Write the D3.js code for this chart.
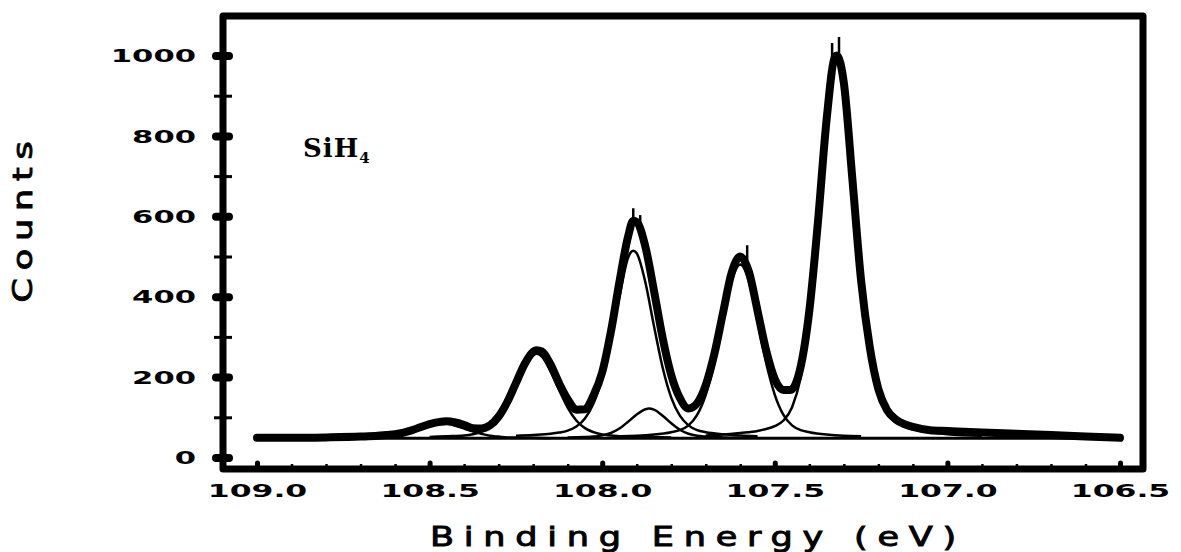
<!DOCTYPE html>
<html lang="en">
<head>
<meta charset="UTF-8">
<title>SiH4 Si 2p spectrum</title>
<style>
  body { margin: 0; background: #fff; }
  svg { display: block; }
</style>
</head>
<body>
<div id="chart"></div>
<script src="https://d3js.org/d3.v7.min.js"></script>
<script>
const width = 1181, height = 552;

// measured spectrum, [binding energy (eV), counts]
const spectrum = [
  [109.00, 49], [108.90, 49], [108.80, 50], [108.70, 52], [108.65, 54], [108.625, 56], [108.60, 58],
  [108.575, 62], [108.55, 68], [108.525, 76], [108.50, 83], [108.475, 88], [108.45, 90], [108.425, 87],
  [108.40, 81], [108.375, 73], [108.35, 72], [108.325, 80], [108.30, 102], [108.275, 138], [108.25, 185],
  [108.225, 232], [108.20, 263], [108.19, 267], [108.175, 264], [108.15, 232], [108.125, 185], [108.10, 145],
  [108.075, 119], [108.05, 120], [108.025, 155], [108.00, 212], [107.975, 312], [107.95, 437], [107.925, 550],
  [107.91, 589], [107.90, 586], [107.875, 525], [107.85, 415], [107.825, 298], [107.80, 205], [107.775, 148],
  [107.75, 122], [107.725, 135], [107.70, 180], [107.675, 258], [107.65, 360], [107.625, 460], [107.60, 500],
  [107.575, 462], [107.55, 365], [107.525, 266], [107.50, 195], [107.475, 168], [107.455, 168], [107.425, 226],
  [107.40, 365], [107.375, 586], [107.35, 840], [107.325, 998], [107.32, 1000], [107.30, 932], [107.275, 690],
  [107.25, 440], [107.225, 275], [107.20, 170], [107.175, 118], [107.15, 95], [107.125, 83], [107.10, 76],
  [107.05, 68], [107.00, 66], [106.90, 62], [106.80, 59], [106.70, 56], [106.60, 52], [106.50, 49]
];

// noise spikes on the peak tops, [energy, from, to]
const spikes = [
  [107.91, 585, 620], [107.89, 575, 603], [107.58, 480, 528], [107.334, 960, 1031], [107.314, 990, 1046]
];

// fitted background and components
const background = [[109.0, 48], [106.5, 48]];

const peak1 = [
  [108.75, 49], [108.70, 49], [108.65, 50], [108.625, 51], [108.60, 54], [108.575, 58], [108.55, 63],
  [108.525, 71], [108.50, 78], [108.475, 83], [108.45, 84], [108.425, 79], [108.40, 72], [108.375, 65],
  [108.35, 59], [108.325, 54], [108.30, 52], [108.275, 50], [108.25, 50], [108.20, 49], [108.15, 48]
];
const peak2 = [
  [108.50, 51], [108.45, 53], [108.40, 55], [108.375, 58], [108.35, 64], [108.325, 76], [108.30, 97],
  [108.275, 132], [108.25, 177], [108.225, 224], [108.20, 254], [108.19, 258], [108.175, 251], [108.15, 215],
  [108.125, 168], [108.10, 124], [108.075, 92], [108.05, 73], [108.025, 63], [108.00, 57], [107.975, 55],
  [107.95, 53], [107.90, 52], [107.85, 51], [107.80, 50]
];
const peak3 = [
  [108.25, 54], [108.20, 56], [108.15, 59], [108.125, 62], [108.10, 67], [108.075, 77], [108.05, 97],
  [108.025, 135], [108.00, 198], [107.975, 290], [107.95, 400], [107.925, 497], [107.91, 514], [107.90, 508],
  [107.875, 436], [107.85, 327], [107.825, 224], [107.80, 149], [107.775, 104], [107.75, 80], [107.725, 68],
  [107.70, 63], [107.65, 58], [107.60, 55], [107.55, 53]
];
const peak3b = [
  [108.10, 50], [108.05, 51], [108.025, 52], [108.00, 55], [107.975, 61], [107.95, 72], [107.925, 89],
  [107.90, 107], [107.875, 120], [107.865, 122], [107.85, 119], [107.825, 104], [107.80, 85], [107.775, 69],
  [107.75, 59], [107.725, 54], [107.70, 52], [107.65, 50], [107.60, 49]
];
const peak4 = [
  [107.95, 53], [107.90, 54], [107.85, 57], [107.80, 63], [107.775, 68], [107.75, 80], [107.725, 106],
  [107.70, 156], [107.675, 235], [107.65, 338], [107.625, 438], [107.60, 480], [107.575, 438], [107.55, 338],
  [107.525, 235], [107.50, 156], [107.475, 106], [107.45, 80], [107.425, 68], [107.40, 63], [107.35, 57],
  [107.30, 54], [107.25, 53]
];
const peak5 = [
  [107.70, 55], [107.65, 57], [107.60, 61], [107.55, 66], [107.525, 71], [107.50, 78], [107.475, 92],
  [107.45, 125], [107.425, 199], [107.40, 345], [107.375, 572], [107.35, 828], [107.325, 988], [107.32, 993],
  [107.30, 921], [107.275, 677], [107.25, 427], [107.225, 260], [107.20, 160], [107.175, 110], [107.15, 88],
  [107.125, 77], [107.10, 70], [107.05, 63], [107.00, 58], [106.90, 54]
];
const components = [peak1, peak2, peak3, peak3b, peak4, peak5];

// axes
const energyTicks = [109.0, 108.5, 108.0, 107.5, 107.0, 106.5];
const energyMinor = [108.9, 108.8, 108.7, 108.6, 108.4, 108.3, 108.2, 108.1, 107.9, 107.8, 107.7, 107.6,
  107.4, 107.3, 107.2, 107.1, 106.9, 106.8, 106.7, 106.6];
const countTicks = [0, 200, 400, 600, 800, 1000];
const countMinor = [100, 300, 500, 700, 900];

const frame = { left: 223, right: 1143, top: 16, bottom: 469 };

const svg = d3.select("#chart").append("svg")
  .attr("width", width)
  .attr("height", height);

const x = d3.scaleLinear().domain([109.0, 106.5]).range([257, 1120]);
const y = d3.scaleLinear().domain([0, 1000]).range([457.5, 55.5]);

const line = d3.line()
  .x(d => x(d[0]))
  .y(d => y(d[1]))
  .curve(d3.curveMonotoneX);

// plot frame
svg.append("path")
  .attr("d", `M${frame.left},${frame.bottom}L${frame.left},${frame.top}L${frame.right},${frame.top}L${frame.right},${frame.bottom}Z`)
  .attr("fill", "none")
  .attr("stroke", "#000")
  .attr("stroke-width", 7)
  .attr("stroke-linejoin", "round");

const labelStyle = sel => sel
  .attr("fill", "#000")
  .style("font-family", "'DejaVu Sans', sans-serif")
  .style("font-weight", "bold")
  .style("font-size", "17px");

// y axis, major ticks
const yAxis = svg.append("g")
  .attr("transform", `translate(${frame.left},0)`)
  .call(d3.axisLeft(y).tickValues(countTicks).tickSize(0).tickFormat(d3.format("d")));
yAxis.select(".domain").remove();
yAxis.selectAll(".tick line")
  .attr("x1", -7).attr("x2", 6)
  .attr("stroke-width", 8)
  .attr("stroke-linecap", "round");
yAxis.selectAll(".tick text")
  .attr("x", 0).attr("dy", "0.36em")
  .attr("text-anchor", "end")
  .attr("transform", "translate(-27,0) scale(1.8,1)")
  .call(labelStyle);

// y axis, minor ticks
const yMinor = svg.append("g")
  .attr("transform", `translate(${frame.left},0)`)
  .call(d3.axisLeft(y).tickValues(countMinor).tickSize(0).tickFormat(""));
yMinor.select(".domain").remove();
yMinor.selectAll(".tick line")
  .attr("x1", -9).attr("x2", 9)
  .attr("stroke-width", 3);

// x axis, major ticks
const xAxis = svg.append("g")
  .attr("transform", `translate(0,${frame.bottom})`)
  .call(d3.axisBottom(x).tickValues(energyTicks).tickSize(0).tickFormat(d3.format(".1f")));
xAxis.select(".domain").remove();
xAxis.selectAll(".tick line")
  .attr("y1", -6).attr("y2", -3)
  .attr("stroke-width", 5)
  .attr("stroke-linecap", "round");
xAxis.selectAll(".tick text")
  .attr("y", 28).attr("dy", 0)
  .attr("text-anchor", "middle")
  .attr("transform", "scale(1.85,1)")
  .call(labelStyle);

// x axis, minor ticks
const xMinor = svg.append("g")
  .attr("transform", `translate(0,${frame.bottom})`)
  .call(d3.axisBottom(x).tickValues(energyMinor).tickSize(0).tickFormat(""));
xMinor.select(".domain").remove();
xMinor.selectAll(".tick line")
  .attr("y1", -5).attr("y2", -3)
  .attr("stroke-width", 2.5);

// axis titles
svg.append("text")
  .attr("transform", "translate(698,546) scale(1.3,1)")
  .attr("text-anchor", "middle")
  .attr("stroke", "#000")
  .attr("stroke-width", 0.9)
  .style("font-family", "'DejaVu Sans', sans-serif")
  .style("font-size", "27px")
  .style("letter-spacing", "7.5px")
  .text("Binding Energy (eV)");

svg.append("text")
  .attr("transform", "translate(32,218) rotate(-90) scale(1.3,1)")
  .attr("text-anchor", "middle")
  .attr("stroke", "#000")
  .attr("stroke-width", 0.9)
  .style("font-family", "'DejaVu Sans', sans-serif")
  .style("font-size", "27px")
  .style("letter-spacing", "6px")
  .text("Counts");

// sample label
const label = svg.append("text")
  .attr("x", 303).attr("y", 157)
  .style("font-family", "'DejaVu Serif', serif")
  .style("font-weight", "bold")
  .style("font-size", "26px")
  .style("letter-spacing", "1px");
label.append("tspan").text("SiH");
label.append("tspan").attr("dy", 6).style("font-size", "15px").text("4");

// fitted components (thin)
svg.append("path")
  .datum(background)
  .attr("d", line)
  .attr("fill", "none")
  .attr("stroke", "#000")
  .attr("stroke-width", 3);

svg.append("g").selectAll("path")
  .data(components)
  .join("path")
  .attr("d", line)
  .attr("fill", "none")
  .attr("stroke", "#000")
  .attr("stroke-width", 2.5)
  .attr("stroke-linejoin", "round");

// measured data (thick)
svg.append("path")
  .datum(spectrum)
  .attr("d", line)
  .attr("fill", "none")
  .attr("stroke", "#000")
  .attr("stroke-width", 8)
  .attr("stroke-linejoin", "round")
  .attr("stroke-linecap", "round");

svg.append("g").selectAll("line")
  .data(spikes)
  .join("line")
  .attr("x1", d => x(d[0])).attr("x2", d => x(d[0]))
  .attr("y1", d => y(d[1])).attr("y2", d => y(d[2]))
  .attr("stroke", "#000")
  .attr("stroke-width", 2.5);
</script>
</body>
</html>
